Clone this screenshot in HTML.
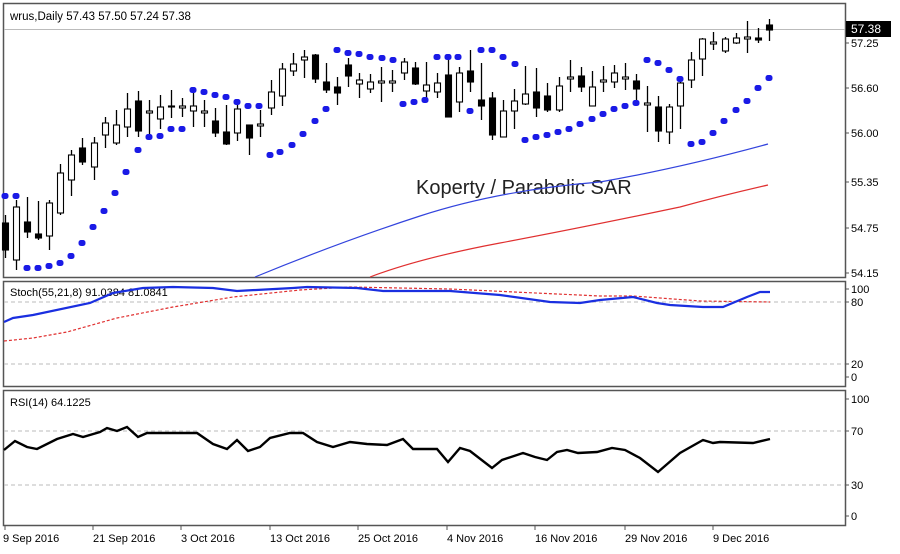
<!DOCTYPE html>
<html><head><meta charset="utf-8"><style>
body{margin:0;background:#fff;width:900px;height:554px;overflow:hidden}
svg{display:block}
text{font-family:"Liberation Sans",Tahoma,sans-serif;font-size:11px;fill:#000}
</style></head><body>
<svg id="s" width="900" height="554" viewBox="0 0 900 554" xmlns="http://www.w3.org/2000/svg">
<rect width="900" height="554" fill="#fff"/>
<rect x="3.5" y="3.5" width="842" height="274" fill="none" stroke="#555" stroke-width="1.5"/>
<rect x="3.5" y="281.5" width="842" height="105" fill="none" stroke="#555" stroke-width="1.5"/>
<rect x="3.5" y="390.5" width="842" height="135" fill="none" stroke="#555" stroke-width="1.5"/>
<line x1="4" y1="29.5" x2="845" y2="29.5" stroke="#bbb" stroke-width="1"/>
<g stroke="#bbb" stroke-dasharray="4,3" stroke-width="1">
<line x1="4" y1="302" x2="845" y2="302"/><line x1="4" y1="364" x2="845" y2="364"/>
<line x1="4" y1="431" x2="845" y2="431"/><line x1="4" y1="485" x2="845" y2="485"/>
</g>
<text x="10" y="20" style="font-size:11.5px">wrus,Daily  57.43 57.50 57.24 57.38</text>
<text x="10" y="296">Stoch(55,21,8) 91.0384 81.0841</text>
<text x="10" y="406">RSI(14) 64.1225</text>
<text x="416" y="194" style="font-size:20px;fill:#222">Koperty / Parabolic SAR</text>
<g stroke="#555" stroke-width="1">
<line x1="845" y1="43" x2="849" y2="43"/><line x1="845" y1="88" x2="849" y2="88"/><line x1="845" y1="133" x2="849" y2="133"/><line x1="845" y1="182" x2="849" y2="182"/><line x1="845" y1="228" x2="849" y2="228"/><line x1="845" y1="273" x2="849" y2="273"/>
<line x1="845" y1="289" x2="849" y2="289"/><line x1="845" y1="302" x2="849" y2="302"/><line x1="845" y1="364" x2="849" y2="364"/><line x1="845" y1="377" x2="849" y2="377"/>
<line x1="845" y1="399" x2="849" y2="399"/><line x1="845" y1="431" x2="849" y2="431"/><line x1="845" y1="485" x2="849" y2="485"/><line x1="845" y1="516" x2="849" y2="516"/>
</g>
<g style="font-size:11.5px">
<text x="851" y="47">57.25</text><text x="851" y="92">56.60</text><text x="851" y="137">56.00</text><text x="851" y="186">55.35</text><text x="851" y="232">54.75</text><text x="851" y="277">54.15</text>
<text x="851" y="293">100</text><text x="851" y="306">80</text><text x="851" y="368">20</text><text x="851" y="381">0</text>
<text x="851" y="403">100</text><text x="851" y="435">70</text><text x="851" y="489">30</text><text x="851" y="520">0</text>
</g>
<rect x="846" y="21" width="45" height="16" fill="#000"/><text x="851" y="33" style="fill:#fff;font-size:12px">57.38</text>
<g stroke="#555"><line x1="5" y1="526" x2="5" y2="530"/><line x1="93" y1="526" x2="93" y2="530"/><line x1="181" y1="526" x2="181" y2="530"/><line x1="270" y1="526" x2="270" y2="530"/><line x1="358" y1="526" x2="358" y2="530"/><line x1="447" y1="526" x2="447" y2="530"/><line x1="535" y1="526" x2="535" y2="530"/><line x1="625" y1="526" x2="625" y2="530"/><line x1="713" y1="526" x2="713" y2="530"/></g>
<g style="font-size:11.5px">
<text x="3" y="542">9 Sep 2016</text><text x="93" y="542">21 Sep 2016</text><text x="181" y="542">3 Oct 2016</text><text x="270" y="542">13 Oct 2016</text><text x="358" y="542">25 Oct 2016</text><text x="447" y="542">4 Nov 2016</text><text x="535" y="542">16 Nov 2016</text><text x="625" y="542">29 Nov 2016</text><text x="713" y="542">9 Dec 2016</text>
</g>
<path fill="none" stroke="#3344dd" stroke-width="1.2" d="M255,277 Q340,242 420,216 T600,182 Q680,168 768,144"/>
<path fill="none" stroke="#e03030" stroke-width="1.2" d="M370,277 Q420,258 500,243 T680,207 Q720,196 768,185"/>
<polyline fill="none" stroke="#e03030" stroke-width="1.2" stroke-dasharray="3,2" points="4,341 33,338 67,332 117,318 173,307 233,297 300,290 350,287 450,289 600,296 633,296 700,301 770,302"/>
<polyline fill="none" stroke="#1a2fe0" stroke-width="2.2" points="4,322 13,318 33,315 90,303 113,293 143,288 173,287 213,288 237,291 293,288 307,287 357,288 383,291 450,291 500,295 550,302 580,303 600,300 633,297 657,303 670,305 703,307 723,307 747,297 760,292 770,292"/>
<polyline fill="none" stroke="#000" stroke-width="2.4" points="4,450 15,441 27,447 37,449 57,439 73,434 83,437 100,432 107,428 117,431 127,427 138,437 147,433 197,433 213,444 227,449 237,440 248,451 260,447 270,438 290,433 303,433 317,442 333,447 350,442 367,444 387,445 403,439 413,449 437,449 448,462 460,448 470,451 492,468 502,460 523,453 535,457 547,460 557,452 567,450 578,453 597,452 612,448 625,450 640,458 658,472 680,453 703,440 713,443 720,442 753,443 770,439"/>
<g id="c"></g><g id="d" fill="#1a1ae6"></g>
</svg>
<script>
var C=[[223,250,215,258,1],[207,260,200,270,0],[222,232,197,238,1],[234,238,201,240,1],[203,236,200,250,0],[173,213,164,215,0],[155,180,150,196,0],[148,162,138,165,1],[143,167,137,180,0],[123,135,117,148,0],[125,143,110,145,0],[109,127,93,137,0],[101,131,91,137,1],[111,113,100,137,0],[107,119,95,129,0],[106,107,90,118,0],[106,108,98,117,0],[106,111,93,127,0],[111,113,100,127,0],[121,133,108,137,1],[132,144,105,145,1],[109,133,103,141,0],[125,138,125,155,1],[124,126,110,137,0],[92,108,80,115,0],[69,96,63,106,0],[64,71,53,76,0],[57,60,50,78,0],[55,79,54,83,1],[82,90,63,93,1],[87,93,77,105,1],[65,76,58,87,1],[80,84,73,98,0],[82,89,74,93,0],[81,83,67,102,0],[81,83,70,92,0],[62,73,58,80,0],[68,84,62,85,1],[85,91,62,100,0],[83,92,73,98,0],[75,117,58,117,1],[73,102,67,112,0],[71,82,50,92,1],[100,106,63,120,1],[98,135,92,140,1],[111,137,100,137,0],[101,111,89,129,0],[94,104,66,105,0],[92,108,68,117,1],[96,110,83,112,1],[86,110,77,112,0],[77,79,60,92,0],[76,87,67,92,1],[87,106,71,106,0],[80,82,66,92,0],[73,82,65,88,0],[77,79,63,90,0],[81,89,74,100,1],[103,105,86,132,0],[107,131,96,142,1],[107,132,104,144,0],[83,106,82,129,0],[60,80,52,88,0],[39,59,38,76,0],[42,44,32,50,0],[39,51,37,53,0],[38,43,33,44,0],[37,39,21,53,0],[38,40,28,43,1],[25,30,19,41,1]];
var g=document.getElementById('c'),h='';
C.forEach(function(c,i){var x=Math.round(5+i*11.07)+0.5;
h+='<line x1="'+x+'" y1="'+c[2]+'" x2="'+x+'" y2="'+c[3]+'" stroke="#000" stroke-width="1.3"/>';
var hb=Math.max(c[1]-c[0],1);
h+='<rect x="'+(x-3)+'" y="'+c[0]+'" width="6" height="'+hb+'" fill="'+(c[4]?'#000':'#fff')+'" stroke="#000" stroke-width="1.1"/>';});
g.innerHTML=h;
var D=[[5,196],[16,196],[27,268],[38,268],[49,266],[60,263],[71,256],[82,243],[93,227],[104,211],[115,193],[126,172],[138,150],[149,137],[160,136],[171,129],[182,129],[193,90],[204,92],[215,95],[226,97],[237,102],[248,106],[259,106],[270,155],[280,152],[292,145],[303,134],[315,121],[326,109],[337,50],[348,53],[359,54],[370,57],[382,58],[393,60],[403,104],[414,102],[425,100],[437,57],[448,57],[458,57],[470,111],[481,50],[492,50],[503,57],[515,64],[525,140],[536,137],[547,135],[558,132],[569,129],[580,124],[592,119],[603,114],[614,109],[625,106],[636,103],[647,60],[658,63],[669,70],[680,79],[691,144],[702,142],[713,133],[724,121],[736,110],[747,101],[758,88],[769,78]];
var d=document.getElementById('d'),k='';
D.forEach(function(p){k+='<rect x="'+(p[0]-3.5)+'" y="'+(p[1]-3)+'" width="7" height="6" rx="2.5"/>';});
d.innerHTML=k;
</script>
</body></html>
